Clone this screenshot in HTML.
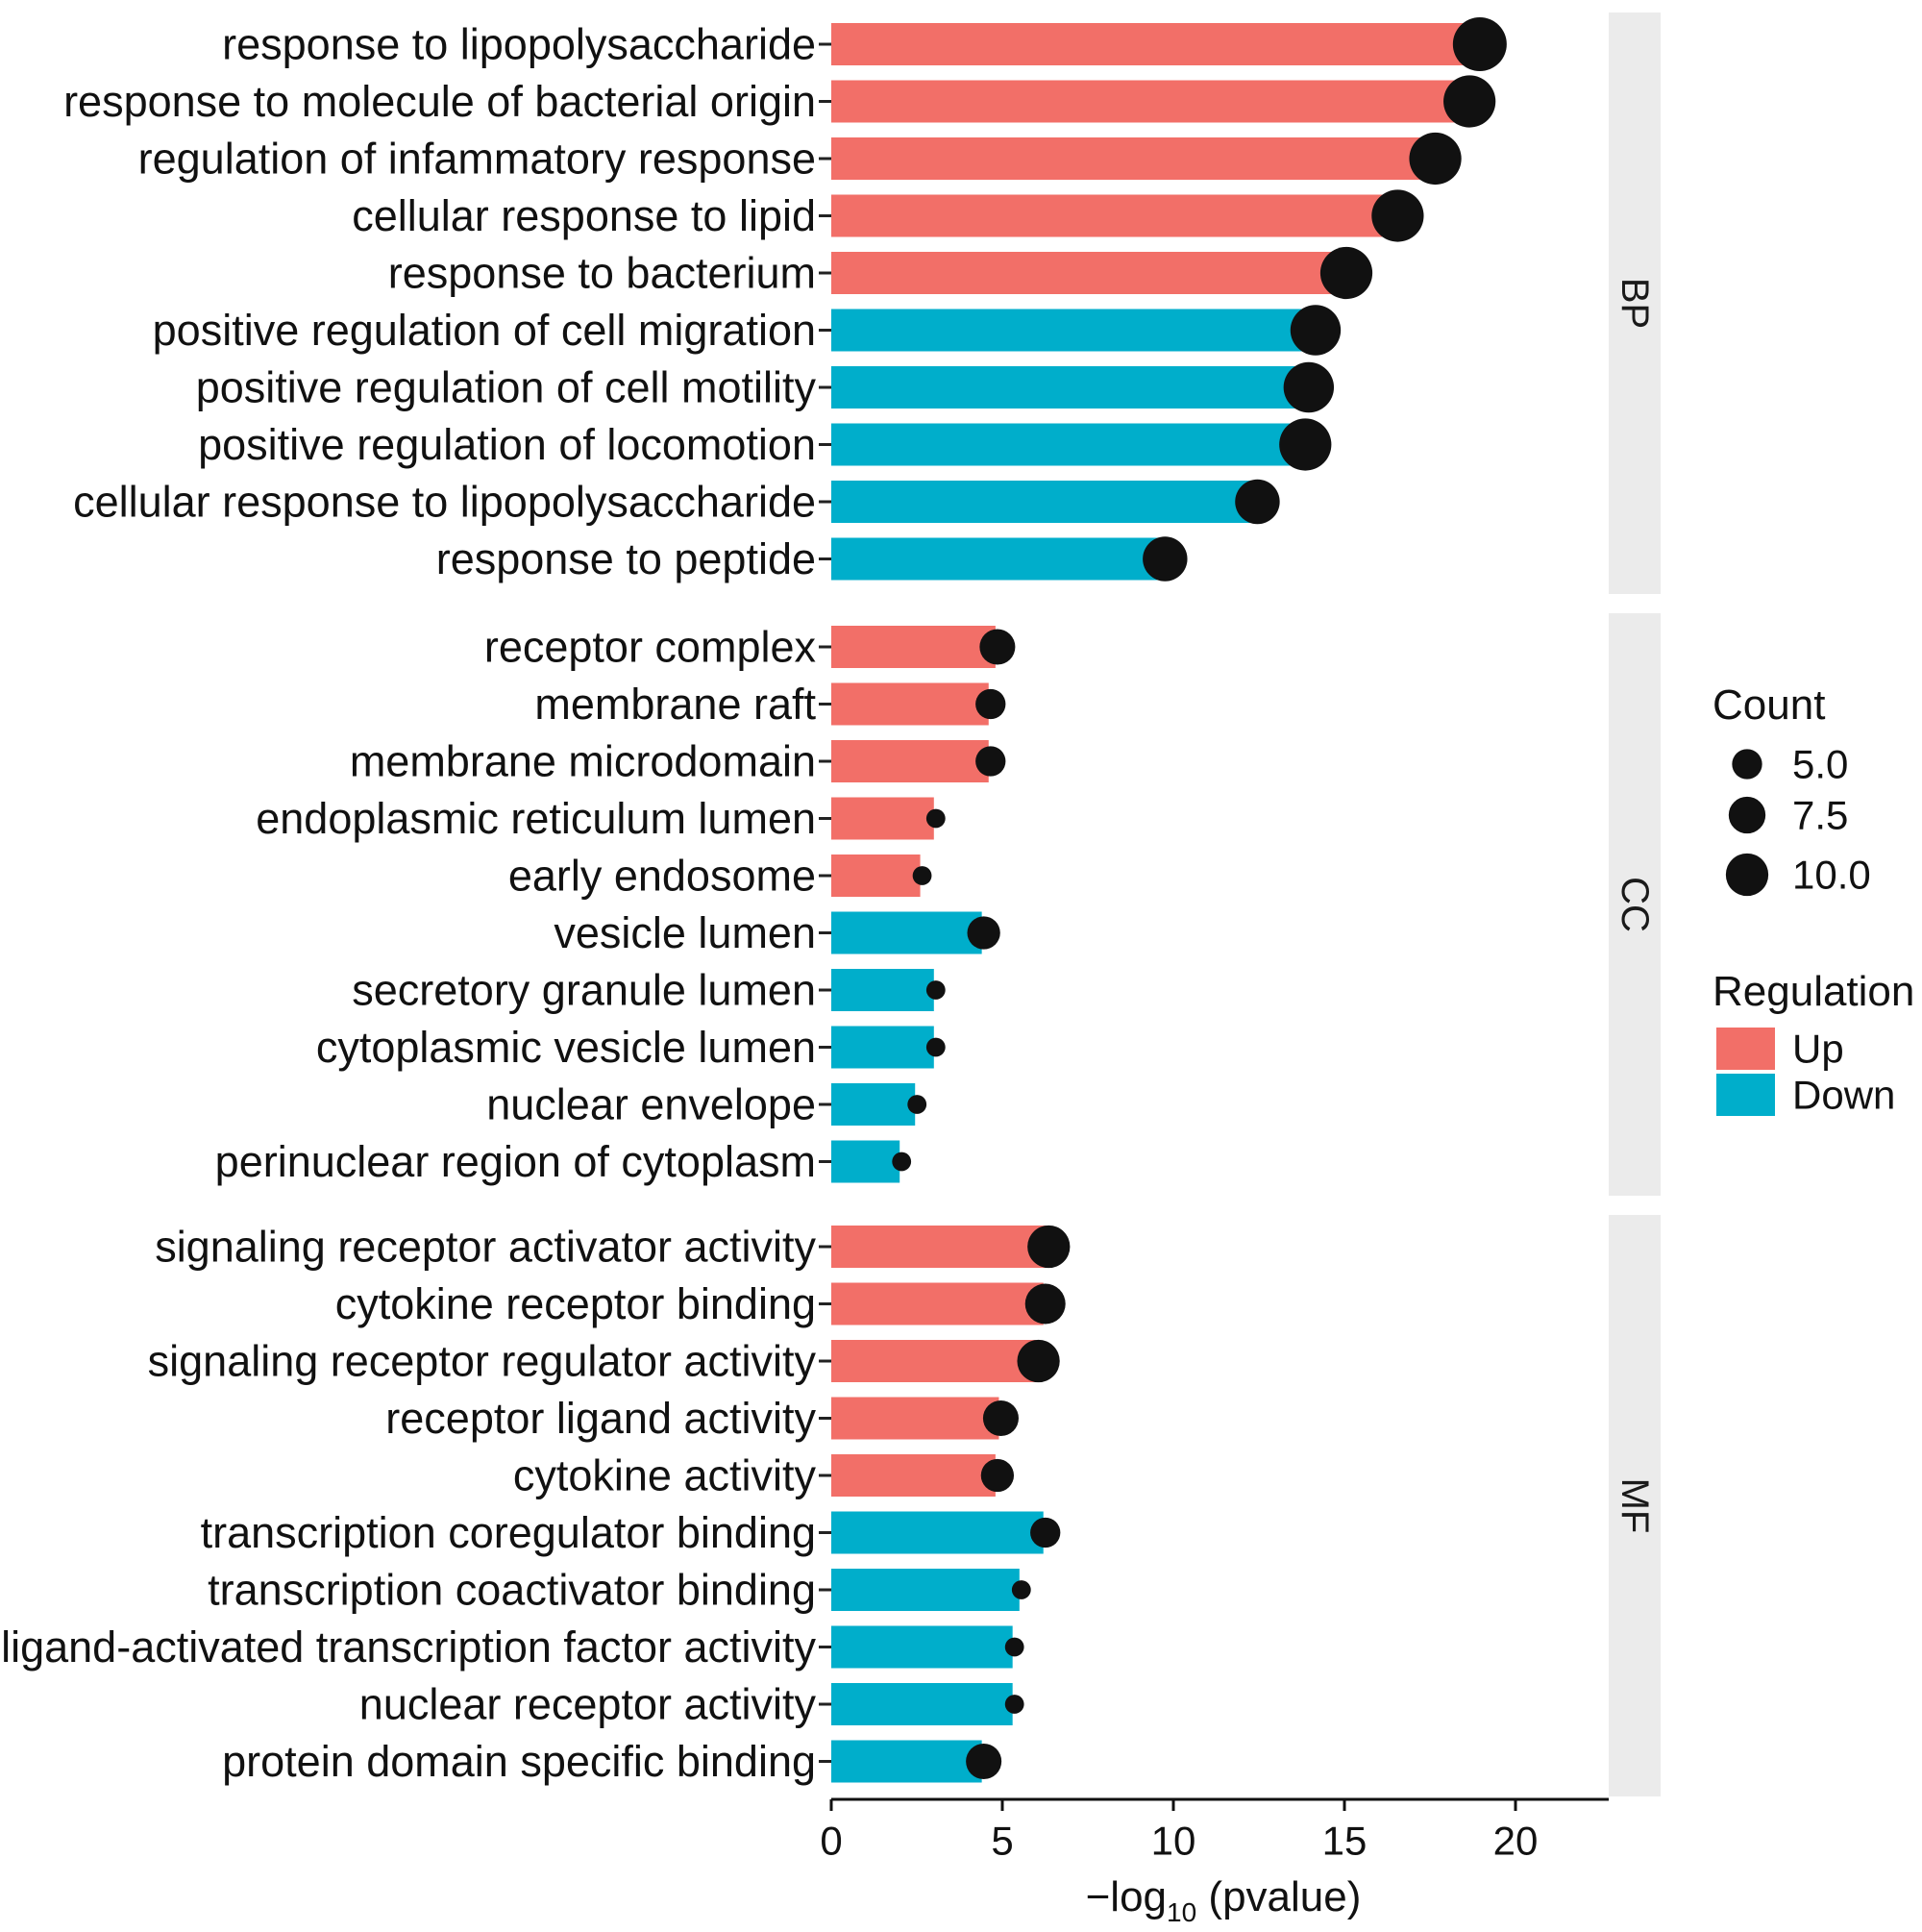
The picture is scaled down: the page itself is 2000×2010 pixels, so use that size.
<!DOCTYPE html>
<html><head><meta charset="utf-8"><style>
html,body{margin:0;padding:0;background:#fff;}
svg{display:block;font-family:"Liberation Sans",sans-serif;}
</style></head><body>
<svg id="chart" width="2000" height="2010" viewBox="0 0 2000 2010"></svg>
<script>
const bpTerms=["response to lipopolysaccharide","response to molecule of bacterial origin","regulation of infammatory response","cellular response to lipid","response to bacterium","positive regulation of cell migration","positive regulation of cell motility","positive regulation of locomotion","cellular response to lipopolysaccharide","response to peptide"];
const bpValues=[18.9,18.6,17.6,16.5,15.0,14.1,13.9,13.8,12.4,9.7];
const bpCounts=[16,15,15,15,15,14,14,15,11,11];
const bpReg=["Up","Up","Up","Up","Up","Down","Down","Down","Down","Down"];
const ccTerms=["receptor complex","membrane raft","membrane microdomain","endoplasmic reticulum lumen","early endosome","vesicle lumen","secretory granule lumen","cytoplasmic vesicle lumen","nuclear envelope","perinuclear region of cytoplasm"];
const ccValues=[4.8,4.6,4.6,3.0,2.6,4.4,3.0,3.0,2.45,2.0];
const ccCounts=[7,5,5,2,2,6,2,2,2,2];
const ccReg=["Up","Up","Up","Up","Up","Down","Down","Down","Down","Down"];
const mfTerms=["signaling receptor activator activity","cytokine receptor binding","signaling receptor regulator activity","receptor ligand activity","cytokine activity","transcription coregulator binding","transcription coactivator binding","ligand-activated transcription factor activity","nuclear receptor activity","protein domain specific binding"];
const mfValues=[6.3,6.2,6.0,4.9,4.8,6.2,5.5,5.3,5.3,4.4];
const mfCounts=[10,9,10,7,6,5,2,2,2,7];
const mfReg=["Up","Up","Up","Up","Up","Down","Down","Down","Down","Down"];
const xTicks=[0,5,10,15,20];
const panelNames=["BP","CC","MF"];
const legendCounts=[5.0,7.5,10.0];
const legendRegs=["Up","Down"];

const NS="http://www.w3.org/2000/svg";
const svg=document.getElementById('chart');
const X0=865, PXU=35.6;
function xs(v){return X0+v*PXU;}
function rs(c){return 7*Math.sqrt(c);}
const colors={Up:"#F26F68",Down:"#00AECB"};
function mk(tag,attrs,parent){const e=document.createElementNS(NS,tag);for(const k in attrs)e.setAttribute(k,attrs[k]);(parent||svg).appendChild(e);return e;}

const panels=[
 {terms:bpTerms,vals:bpValues,counts:bpCounts,reg:bpReg,y0:46,top:13,bot:618},
 {terms:ccTerms,vals:ccValues,counts:ccCounts,reg:ccReg,y0:673,top:638,bot:1244},
 {terms:mfTerms,vals:mfValues,counts:mfCounts,reg:mfReg,y0:1297,top:1264,bot:1869}
];
const STEP=59.5, BH=44;
panels.forEach((p,pi)=>{
  const g=mk('g',{});
  
  
  const s=mk('rect',{x:1674,y:p.top,width:54,height:p.bot-p.top,fill:"#EBEBEB"},g);
  
  
  const cy=(p.top+p.bot)/2;
  const st=mk('text',{x:1701,y:cy,transform:`rotate(90 1701 ${cy})`,"text-anchor":"middle","dominant-baseline":"central","font-size":40,fill:"#1a1a1a"},g);
  st.textContent=panelNames[pi];
  
  
  p.terms.forEach((t,i)=>{
    const y=p.y0+i*STEP;
    const lab=mk('text',{x:849,y:y,"text-anchor":"end","dominant-baseline":"central","font-size":45,fill:"#111"},g);
    lab.textContent=t;
    
    
    const tk=mk('line',{x1:852,x2:865,y1:y,y2:y,stroke:"#222","stroke-width":3},g);
    
    
    const b=mk('rect',{x:xs(0),y:y-BH/2,width:xs(p.vals[i])-xs(0),height:BH,fill:colors[p.reg[i]]},g);
    
    
    const d=mk('circle',{cx:xs(p.vals[i])+2,cy:y,r:rs(p.counts[i]),fill:"#111"},g);
    
    
  });
});
const ax=mk('line',{x1:865,x2:1674,y1:1872,y2:1872,stroke:"#111","stroke-width":3});


xTicks.forEach(v=>{
  const l=mk('line',{x1:xs(v),x2:xs(v),y1:1872,y2:1884,stroke:"#111","stroke-width":3});
  
  
  const t=mk('text',{x:xs(v),y:1915,"text-anchor":"middle","dominant-baseline":"central","font-size":42,fill:"#111"});
  t.textContent=v;
  
  
});
const xt=mk('text',{x:1273,y:1988,"text-anchor":"middle","font-size":44,fill:"#111"});
xt.innerHTML='−log<tspan font-size="28" dy="11">10</tspan><tspan dy="-11"> (pvalue)</tspan>';


const ct=mk('text',{x:1782,y:748,"font-size":44,fill:"#111"});
ct.textContent="Count";


const ly=[795,848,910];
legendCounts.forEach((c,i)=>{
  const d=mk('circle',{cx:1818,cy:ly[i],r:rs(c),fill:"#111"});
  
  
  const t=mk('text',{x:1865,y:ly[i],"dominant-baseline":"central","font-size":42,fill:"#111"});
  t.textContent=c.toFixed(1);
  
  
});
const rt=mk('text',{x:1782,y:1046,"font-size":44,fill:"#111"});
rt.textContent="Regulation";


legendRegs.forEach((r,i)=>{
  const y=1069+i*48;
  const k=mk('rect',{x:1786,y:y,width:61,height:44,fill:colors[r]});
  
  
  const t=mk('text',{x:1865,y:y+22,"dominant-baseline":"central","font-size":42,fill:"#111"});
  t.textContent=r;
  
  
});
</script>
</body></html>
